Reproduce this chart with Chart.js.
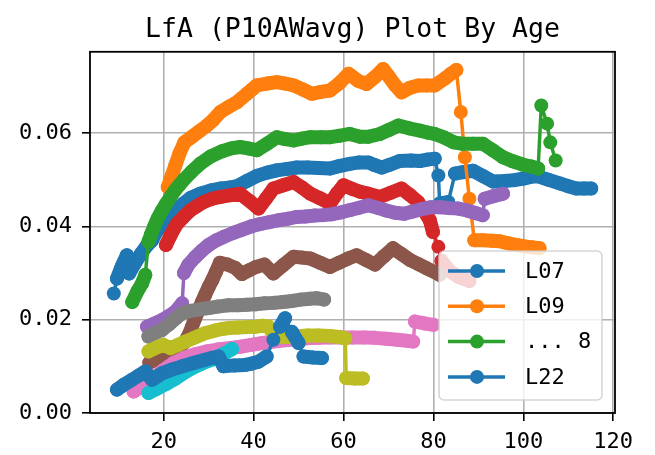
<!DOCTYPE html>
<html>
<head>
<meta charset="utf-8">
<title>LfA (P10AWavg) Plot By Age</title>
<script src="https://cdn.jsdelivr.net/npm/chart.js@4.4.0/dist/chart.umd.min.js"></script>
<style>
  html, body { margin: 0; padding: 0; background: #fff; }
  #wrap { width: 655px; height: 455px; }
</style>
</head>
<body>
<div id="wrap"><canvas id="lfaChart" width="655" height="455"></canvas></div>
<script>
// ---- data (age, value) per series ----
const ageL07 = [8.9, 9.6, 10.6, 11.8, 12.3, 13.6, 15.0, 16.2, 17.4, 18.5, 19.6, 20.7, 22.5, 24.4, 26.0, 28.1, 30.5, 32.6, 34.5, 36.3, 38.5, 40.7, 43.0, 45.2, 47.5, 49.6, 52.0, 54.5, 57.0, 59.0, 61.4, 63.5, 65.5, 67.0, 68.5, 70.3, 72.5, 75.0, 77.0, 78.7, 80.3, 81.1, 81.4, 83.3, 84.8, 86.5, 88.8, 91.0, 93.3, 95.8, 98.0, 100.4, 102.9, 105.5, 108.1, 110.0, 111.8, 113.5, 115.1];
const valL07 = [0.0256, 0.0288, 0.0313, 0.0338, 0.0299, 0.0321, 0.0342, 0.0358, 0.0370, 0.0390, 0.0402, 0.0413, 0.0433, 0.0449, 0.0461, 0.0470, 0.0477, 0.0481, 0.0483, 0.0486, 0.0497, 0.0508, 0.0515, 0.0520, 0.0523, 0.0526, 0.0526, 0.0525, 0.0524, 0.0529, 0.0534, 0.0537, 0.0537, 0.0531, 0.0526, 0.0532, 0.0540, 0.0541, 0.0540, 0.0543, 0.0545, 0.0509, 0.0449, 0.0452, 0.0513, 0.0516, 0.0519, 0.0508, 0.0496, 0.0497, 0.0499, 0.0503, 0.0508, 0.0500, 0.0492, 0.0486, 0.0481, 0.0481, 0.0481];

const ageL09 = [20.9, 21.8, 22.6, 23.5, 24.6, 26.3, 28.1, 29.5, 31.0, 32.6, 34.5, 36.3, 37.4, 38.5, 39.6, 40.7, 43.0, 45.2, 47.0, 48.9, 51.0, 52.9, 55.0, 57.0, 59.0, 61.1, 63.2, 65.1, 67.0, 68.8, 70.0, 71.5, 72.9, 74.8, 76.6, 78.5, 80.3, 82.7, 83.9, 85.1, 86.1, 87.0, 88.0, 89.1, 91.0, 93.0, 94.7, 96.5, 98.5, 100.3, 102.0, 103.6];
const valL09 = [0.0484, 0.0509, 0.0531, 0.0556, 0.0580, 0.0592, 0.0605, 0.0615, 0.0628, 0.0645, 0.0656, 0.0666, 0.0675, 0.0684, 0.0693, 0.0702, 0.0706, 0.0709, 0.0706, 0.0702, 0.0693, 0.0684, 0.0688, 0.0691, 0.0706, 0.0727, 0.0712, 0.0705, 0.0720, 0.0737, 0.0722, 0.0702, 0.0687, 0.0697, 0.0702, 0.0702, 0.0702, 0.0718, 0.0727, 0.0735, 0.0645, 0.0548, 0.0459, 0.0370, 0.0370, 0.0369, 0.0368, 0.0364, 0.0360, 0.0357, 0.0355, 0.0353];

const ageS03 = [13.0, 14.1, 15.2, 15.9, 16.6, 17.2, 17.9, 18.6, 19.5, 20.5, 21.5, 22.5, 23.5, 24.5, 26.2, 28.1, 30.5, 33.0, 35.0, 37.0, 38.8, 40.7, 43.0, 45.2, 47.0, 48.9, 50.8, 52.6, 55.0, 57.0, 59.0, 61.4, 63.7, 65.5, 68.1, 70.2, 72.2, 74.6, 77.0, 78.7, 80.3, 82.5, 84.5, 86.5, 88.8, 91.0, 93.2, 95.5, 97.5, 100.0, 101.8, 103.3, 104.0, 105.3, 106.0, 107.2];
const valS03 = [0.0238, 0.0260, 0.0278, 0.0296, 0.0367, 0.0383, 0.0400, 0.0416, 0.0432, 0.0448, 0.0463, 0.0477, 0.0489, 0.0500, 0.0517, 0.0534, 0.0550, 0.0561, 0.0567, 0.0570, 0.0567, 0.0563, 0.0577, 0.0591, 0.0587, 0.0584, 0.0588, 0.0591, 0.0591, 0.0591, 0.0594, 0.0598, 0.0592, 0.0592, 0.0598, 0.0607, 0.0616, 0.0610, 0.0605, 0.0601, 0.0598, 0.0590, 0.0580, 0.0577, 0.0577, 0.0577, 0.0563, 0.0548, 0.0540, 0.0532, 0.0528, 0.0524, 0.0659, 0.0620, 0.0580, 0.0541];

const ageS04 = [20.5, 21.5, 22.2, 23.0, 24.5, 25.9, 27.5, 28.9, 30.8, 32.6, 35.0, 37.0, 39.0, 41.1, 42.8, 44.4, 46.6, 48.9, 50.8, 52.6, 54.8, 57.0, 58.5, 60.0, 62.0, 63.7, 65.5, 68.1, 70.5, 72.9, 74.8, 76.6, 78.0, 79.2, 79.9, 81.1, 81.8, 83.5, 85.5, 88.0];
const valS04 = [0.0360, 0.0380, 0.0393, 0.0406, 0.0421, 0.0434, 0.0444, 0.0452, 0.0459, 0.0463, 0.0467, 0.0470, 0.0455, 0.0438, 0.0460, 0.0481, 0.0488, 0.0495, 0.0483, 0.0470, 0.0460, 0.0449, 0.0470, 0.0488, 0.0480, 0.0474, 0.0470, 0.0463, 0.0472, 0.0481, 0.0467, 0.0452, 0.0432, 0.0413, 0.0388, 0.0356, 0.0326, 0.0305, 0.0292, 0.0283];

const ageS05 = [16.3, 18.0, 19.6, 21.0, 22.6, 24.1, 24.5, 25.5, 27.0, 28.5, 30.0, 31.7, 33.5, 35.5, 37.5, 39.5, 41.5, 43.5, 45.5, 47.5, 49.5, 51.5, 53.5, 55.5, 57.5, 59.5, 61.5, 63.5, 65.5, 67.5, 69.5, 71.5, 73.5, 75.5, 77.5, 79.5, 81.5, 83.5, 85.5, 87.5, 89.5, 91.0, 91.4, 93.5, 95.5];
const valS05 = [0.0185, 0.0192, 0.0199, 0.0207, 0.0217, 0.0235, 0.0300, 0.0318, 0.0334, 0.0348, 0.0360, 0.0370, 0.0378, 0.0386, 0.0393, 0.0400, 0.0405, 0.0409, 0.0413, 0.0416, 0.0420, 0.0421, 0.0423, 0.0424, 0.0426, 0.0430, 0.0435, 0.0440, 0.0445, 0.0440, 0.0434, 0.0429, 0.0427, 0.0432, 0.0437, 0.0441, 0.0441, 0.0439, 0.0438, 0.0434, 0.0428, 0.0424, 0.0459, 0.0465, 0.0470];

const ageS06 = [16.8, 18.5, 20.5, 22.5, 24.5, 25.5, 26.3, 27.0, 27.8, 28.5, 29.2, 30.0, 30.8, 31.6, 32.5, 34.2, 35.9, 37.4, 39.0, 40.5, 42.4, 44.4, 46.6, 48.9, 50.8, 52.6, 54.8, 57.0, 59.0, 61.0, 62.9, 65.0, 67.0, 69.0, 71.0, 73.0, 74.8, 76.5, 78.5, 80.3, 81.4];
const valS06 = [0.0108, 0.0115, 0.0123, 0.0132, 0.0150, 0.0166, 0.0185, 0.0203, 0.0221, 0.0238, 0.0253, 0.0270, 0.0285, 0.0302, 0.0322, 0.0318, 0.0311, 0.0298, 0.0306, 0.0313, 0.0318, 0.0299, 0.0317, 0.0335, 0.0333, 0.0331, 0.0322, 0.0313, 0.0322, 0.0331, 0.0338, 0.0328, 0.0318, 0.0336, 0.0353, 0.0340, 0.0328, 0.0320, 0.0310, 0.0302, 0.0296];

const ageS07 = [13.3, 14.8, 16.3, 18.0, 20.0, 22.2, 24.5, 27.0, 29.6, 32.0, 34.5, 37.0, 39.5, 42.0, 44.4, 47.0, 49.5, 51.8, 54.5, 57.0, 59.5, 62.0, 64.5, 67.0, 69.5, 72.0, 74.0, 75.5, 75.9, 78.0, 80.0];
const valS07 = [0.0046, 0.0055, 0.0064, 0.0077, 0.0092, 0.0107, 0.0118, 0.0126, 0.0132, 0.0136, 0.0139, 0.0142, 0.0146, 0.0150, 0.0153, 0.0156, 0.0158, 0.0160, 0.0161, 0.0162, 0.0162, 0.0162, 0.0162, 0.0161, 0.0159, 0.0157, 0.0155, 0.0153, 0.0196, 0.0192, 0.0189];

const ageS08 = [16.6, 18.0, 19.6, 21.2, 22.7, 24.1, 26.0, 28.0, 30.0, 32.0, 34.4, 36.5, 38.5, 40.5, 42.5, 44.5, 46.6, 48.5, 50.5, 52.5, 54.0, 55.7];
const valS08 = [0.0164, 0.0171, 0.0178, 0.0190, 0.0203, 0.0214, 0.0219, 0.0222, 0.0225, 0.0228, 0.0231, 0.0231, 0.0232, 0.0233, 0.0235, 0.0236, 0.0238, 0.0240, 0.0243, 0.0245, 0.0246, 0.0243];

const ageS09 = [16.6, 18.3, 19.9, 21.5, 23.2, 24.8, 27.0, 29.2, 31.5, 33.0, 34.6, 36.6, 38.6, 40.5, 42.0, 43.3, 44.8, 47.0, 49.5, 52.0, 54.5, 57.0, 59.0, 60.4, 60.6, 62.5, 64.3];
const valS09 = [0.0132, 0.0140, 0.0146, 0.0139, 0.0146, 0.0153, 0.0162, 0.0171, 0.0177, 0.0180, 0.0182, 0.0183, 0.0184, 0.0185, 0.0187, 0.0185, 0.0164, 0.0163, 0.0164, 0.0166, 0.0166, 0.0165, 0.0163, 0.0160, 0.0075, 0.0074, 0.0074];

const ageS10 = [16.6, 18.5, 20.5, 22.5, 24.5, 26.5, 28.5, 30.7, 32.8, 35.2];
const valS10 = [0.0043, 0.0052, 0.0062, 0.0073, 0.0086, 0.0097, 0.0106, 0.0114, 0.0124, 0.0137];

const ageL22 = [9.6, 11.2, 12.9, 14.4, 15.9, 17.4, 19.6, 21.8, 24.1, 26.6, 29.2, 30.7, 32.2, 33.3, 35.7, 38.1, 39.6, 41.1, 42.9, 44.4, 45.9, 47.0, 48.5, 50.0, 51.1, 53.2, 55.2];
const valL22 = [0.0050, 0.0061, 0.0071, 0.0080, 0.0089, 0.0071, 0.0085, 0.0093, 0.0100, 0.0107, 0.0114, 0.0118, 0.0121, 0.0100, 0.0102, 0.0103, 0.0106, 0.0110, 0.0121, 0.0157, 0.0185, 0.0203, 0.0174, 0.0150, 0.0121, 0.0119, 0.0118];

const seriesAges = [ageL07, ageL09, ageS03, ageS04, ageS05, ageS06, ageS07, ageS08, ageS09, ageS10, ageL22];
const seriesVals = [valL07, valL09, valS03, valS04, valS05, valS06, valS07, valS08, valS09, valS10, valL22];
const seriesNames = ['L07', 'L09', '', '', '', '', '', '', '', '', 'L22'];

// the legend in the picture only lists four entries
const legendNames = ['L07', 'L09', '... 8', 'L22'];
const legendSeries = [0, 1, 2, 10];

const xTicks = [20, 40, 60, 80, 100, 120];
const yTicks = [0, 0.02, 0.04, 0.06];

// ---- styles ----
const palette = ['#1f77b4', '#ff7f0e', '#2ca02c', '#d62728', '#9467bd', '#8c564b', '#e377c2', '#7f7f7f', '#bcbd22', '#17becf'];
const FONT = "'DejaVu Sans Mono', 'Liberation Mono', monospace";
const MARKER_R = 7;
const THIN = 3.5;
const THICK = 14;

// close-together points merge into a solid band, far ones keep a thin link
function segWidth(ctx) {
  const d = Math.hypot(ctx.p1.x - ctx.p0.x, ctx.p1.y - ctx.p0.y);
  return d < 14 ? THICK : THIN;
}

const datasets = seriesAges.map((ages, i) => {
  const color = palette[i % palette.length];
  return {
    label: seriesNames[i],
    data: ages.map((a, j) => ({ x: a, y: seriesVals[i][j] })),
    borderColor: color,
    backgroundColor: color,
    pointBackgroundColor: color,
    pointBorderWidth: 0,
    pointRadius: MARKER_R,
    borderWidth: THIN,
    borderCapStyle: 'round',
    borderJoinStyle: 'round',
    segment: { borderWidth: segWidth },
    fill: false,
    tension: 0,
    order: seriesAges.length - i
  };
});

// black box around the axes
const frame = {
  id: 'frame',
  afterDatasetsDraw(chart) {
    const { ctx, chartArea: a } = chart;
    ctx.save();
    ctx.strokeStyle = '#000';
    ctx.lineWidth = 1.8;
    ctx.strokeRect(a.left, a.top, a.right - a.left, a.bottom - a.top);
    ctx.restore();
  }
};

// matplotlib-like legend box in the lower right
const boxLegend = {
  id: 'boxLegend',
  afterDraw(chart) {
    const { ctx, chartArea: a } = chart;
    const w = 163, h = 149;
    const left = a.right - 13 - w, top = a.bottom - 13 - h;
    ctx.save();
    ctx.beginPath();
    ctx.roundRect(left, top, w, h, 5);
    ctx.fillStyle = 'rgba(255,255,255,0.8)';
    ctx.fill();
    ctx.strokeStyle = 'rgba(204,204,204,0.8)';
    ctx.lineWidth = 1.6;
    ctx.stroke();
    legendNames.forEach((name, i) => {
      const color = palette[legendSeries[i] % palette.length];
      const y = top + 20 + i * 35.3;
      ctx.strokeStyle = color;
      ctx.lineWidth = THIN;
      ctx.beginPath();
      ctx.moveTo(left + 9, y);
      ctx.lineTo(left + 66, y);
      ctx.stroke();
      ctx.fillStyle = color;
      ctx.beginPath();
      ctx.arc(left + 38, y, MARKER_R, 0, Math.PI * 2);
      ctx.fill();
      ctx.fillStyle = '#000';
      ctx.font = '22px ' + FONT;
      ctx.textBaseline = 'middle';
      ctx.textAlign = 'left';
      ctx.fillText(name, left + 86, y + 1);
    });
    ctx.restore();
  }
};

const chart = new Chart(document.getElementById('lfaChart'), {
  type: 'line',
  data: { datasets },
  options: {
    responsive: false,
    animation: false,
    events: [],
    layout: { padding: { top: 0, right: 40, bottom: 0, left: 0 } },
    plugins: {
      legend: { display: false },
      tooltip: { enabled: false },
      title: {
        display: true,
        fullSize: false,
        text: 'LfA (P10AWavg) Plot By Age',
        color: '#000',
        font: { family: FONT, size: 26.5, weight: 'normal' },
        padding: { top: 14, bottom: 6 }
      }
    },
    scales: {
      x: {
        type: 'linear',
        min: 3.6,
        max: 120.4,
        afterFit: s => { s.height = 42; },
        afterBuildTicks: s => { s.ticks = xTicks.map(v => ({ value: v })); },
        border: { display: false },
        grid: { color: '#b0b0b0', lineWidth: 1.6, tickColor: '#000', tickLength: 8, tickWidth: 1.6 },
        ticks: { color: '#000', font: { family: FONT, size: 22 }, padding: 8, maxRotation: 0, autoSkip: false }
      },
      y: {
        type: 'linear',
        min: 0,
        max: 0.0774,
        afterFit: s => { s.width = 90; },
        afterBuildTicks: s => { s.ticks = yTicks.map(v => ({ value: v })); },
        border: { display: false },
        grid: { color: '#b0b0b0', lineWidth: 1.6, tickColor: '#000', tickLength: 8, tickWidth: 1.6 },
        ticks: { color: '#000', font: { family: FONT, size: 22 }, padding: 10, autoSkip: false, callback: v => v.toFixed(2) }
      }
    }
  },
  plugins: [frame, boxLegend]
});
</script>
</body>
</html>
